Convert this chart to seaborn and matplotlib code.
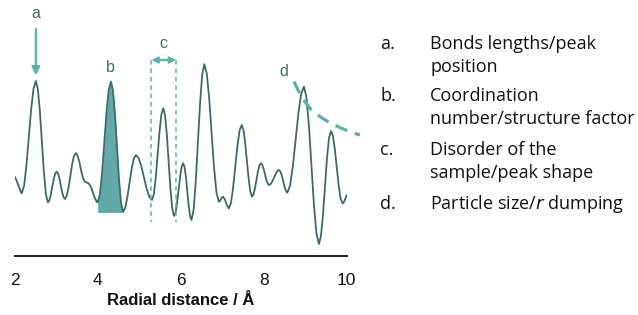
import numpy as np
import seaborn as sns
import matplotlib.pyplot as plt

sns.set_style('white')
plt.rcParams['font.family'] = ['Liberation Sans', 'DejaVu Sans']

# radial distribution curve (arbitrary units for G)
r_vals = [2.00, 2.04, 2.08, 2.12, 2.15, 2.17,
          2.227, 2.283, 2.34, 2.397, 2.453, 2.51,
          2.558, 2.607, 2.655, 2.703, 2.752, 2.80,
          2.835, 2.87, 2.905, 2.94, 2.975, 3.01,
          3.043, 3.077, 3.11, 3.143, 3.177, 3.21,
          3.253, 3.297, 3.34, 3.383, 3.427, 3.47,
          3.50, 3.53, 3.56, 3.59, 3.62, 3.65, 3.68, 3.71, 3.74, 3.77, 3.80, 3.83,
          3.86, 3.89, 3.92, 3.95, 3.98, 4.00,
          4.053, 4.107, 4.16, 4.213, 4.267, 4.32,
          4.368, 4.417, 4.465, 4.513, 4.562, 4.61,
          4.662, 4.713, 4.765, 4.817, 4.868, 4.92,
          4.985, 5.05, 5.115, 5.18, 5.245, 5.31,
          5.355, 5.40, 5.445, 5.49, 5.535, 5.58,
          5.623, 5.667, 5.71, 5.753, 5.797, 5.84,
          5.877, 5.913, 5.95, 5.987, 6.023, 6.06,
          6.093, 6.127, 6.16, 6.193, 6.227, 6.26,
          6.312, 6.363, 6.415, 6.467, 6.518, 6.57,
          6.628, 6.687, 6.745, 6.803, 6.862, 6.92,
          6.953, 6.987, 7.02,
          7.067, 7.113, 7.16,
          7.212, 7.263, 7.315, 7.367, 7.418, 7.47,
          7.512, 7.553, 7.595, 7.637, 7.678, 7.72,
          7.755, 7.79, 7.825, 7.86, 7.895, 7.93,
          7.963, 7.997, 8.03, 8.063, 8.097, 8.13,
          8.17, 8.21, 8.25, 8.29, 8.33, 8.37,
          8.403, 8.437, 8.47, 8.503, 8.537, 8.57,
          8.637, 8.703, 8.77, 8.837, 8.903, 8.97,
          9.03, 9.09, 9.15, 9.21, 9.27, 9.33,
          9.378, 9.427, 9.475, 9.523, 9.572, 9.62,
          9.667, 9.713, 9.76, 9.807, 9.853, 9.90,
          9.93, 9.965, 10.00]
g_vals = [1.17, 1.00, 0.78, 0.55, 0.39, 0.34,
          0.72, 1.74, 3.15, 4.55, 5.57, 5.95,
          5.54, 4.43, 2.92, 1.40, 0.29, -0.12,
          -0.02, 0.27, 0.65, 1.04, 1.32, 1.42,
          1.33, 1.08, 0.74, 0.39, 0.14, 0.05,
          0.20, 0.62, 1.20, 1.77, 2.19, 2.34,
          2.28, 2.12, 1.88, 1.58, 1.30, 1.08, 0.95, 0.89, 0.87, 0.84, 0.78, 0.67,
          0.52, 0.34, 0.16, 0.02, -0.10, -0.12,
          0.28, 1.39, 2.90, 4.41, 5.52, 5.92,
          5.48, 4.29, 2.67, 1.04, -0.15, -0.59,
          -0.40, 0.12, 0.83, 1.54, 2.06, 2.25,
          2.10, 1.69, 1.13, 0.56, 0.15, 0.00,
          0.31, 1.15, 2.30, 3.44, 4.28, 4.59,
          4.23, 3.24, 1.90, 0.55, -0.44, -0.80,
          -0.62, -0.14, 0.52, 1.18, 1.66, 1.84,
          1.65, 1.13, 0.42, -0.29, -0.81, -1.00,
          -0.48, 0.95, 2.90, 4.84, 6.27, 6.79,
          6.33, 5.07, 3.35, 1.63, 0.37, -0.09,
          -0.03, 0.11, 0.17,
          0.02, -0.27, -0.42,
          -0.14, 0.62, 1.67, 2.71, 3.47, 3.75,
          3.51, 2.86, 1.96, 1.07, 0.41, 0.17,
          0.28, 0.59, 1.01, 1.42, 1.73, 1.84,
          1.77, 1.57, 1.30, 1.02, 0.82, 0.75,
          0.80, 0.94, 1.13, 1.31, 1.45, 1.50,
          1.42, 1.22, 0.94, 0.65, 0.45, 0.37,
          0.73, 1.70, 3.02, 4.35, 5.31, 5.67,
          5.14, 3.70, 1.74, -0.23, -1.67, -2.20,
          -1.82, -0.79, 0.63, 2.04, 3.07, 3.45,
          3.21, 2.55, 1.64, 0.74, 0.07, -0.17,
          -0.12, 0.05, 0.25]

# shaded peak b
fill_range = (4.00, 4.61)
fill_base = -0.62

# damping envelope (d)
d_r = [8.73, 8.85, 8.96, 9.15, 9.37, 9.60, 9.86, 10.10, 10.32]
d_g = [5.92, 5.40, 5.00, 4.50, 4.15, 3.85, 3.60, 3.40, 3.25]

x_ticks = [2, 4, 6, 8, 10]
legend_letters = ['a.', 'b.', 'c.', 'd.']
legend_lines = [['Bonds lengths/peak', 'position'],
                ['Coordination', 'number/structure factor'],
                ['Disorder of the', 'sample/peak shape'],
                ['Particle size/$\\it{r}$ dumping']]

line_col = '#3d6b6a'
fill_col = '#62aaa5'
ann_col = '#5cb3ad'

fig = plt.figure(figsize=(6.38, 3.15), dpi=100)
ax = fig.add_axes([14.7 / 638, 1 - 256 / 315, 332 / 638, 256 / 315])

sns.lineplot(x=r_vals, y=g_vals, sort=False, estimator=None, color=line_col,
             linewidth=1.3, ax=ax)

r_arr = np.array(r_vals)
g_arr = np.array(g_vals)
m = (r_arr >= fill_range[0]) & (r_arr <= fill_range[1])
ax.fill_between(r_arr[m], g_arr[m], fill_base, color=fill_col, lw=0)

# a: arrow to first peak
ax.annotate('', xy=(2.51, 6.1), xytext=(2.51, 8.7),
            arrowprops=dict(arrowstyle='-|>', color=ann_col, lw=1.6, mutation_scale=12))
ax.text(2.51, 9.3, 'a', color=line_col, fontsize=11.5, ha='center', va='center')
ax.text(4.30, 6.6, 'b', color=line_col, fontsize=11.5, ha='center', va='center')

# c: peak width
c_left, c_right = 5.29, 5.89
ax.annotate('', xy=(c_left, 7.0), xytext=(c_right, 7.0),
            arrowprops=dict(arrowstyle='<|-|>', color=ann_col, lw=1.6, mutation_scale=9,
                            shrinkA=0, shrinkB=0))
for xc in (c_left, c_right):
    ax.plot([xc, xc], [7.0, -1.1], color=ann_col, lw=1.1, ls=(0, (3, 2.5)))
ax.text(5.59, 7.85, 'c', color=line_col, fontsize=11.5, ha='center', va='center')

# d: envelope
sns.lineplot(x=d_r, y=d_g, sort=False, estimator=None, color=ann_col, linewidth=2.3,
             ax=ax, clip_on=False)
ax.lines[-1].set_linestyle((0, (4, 2.5)))
ax.text(8.48, 6.45, 'd', color=line_col, fontsize=11.5, ha='center', va='center')

ax.set_xlim(2, 10)
ax.set_ylim(-2.8, 10)
ax.set_xticks(x_ticks)
ax.set_yticks([])
for s in ('top', 'left', 'right'):
    ax.spines[s].set_visible(False)
ax.spines['bottom'].set_color('#222222')
ax.spines['bottom'].set_linewidth(1.4)
ax.tick_params(axis='x', direction='in', length=5, width=1.4, color='#222222',
               pad=12, labelsize=12.5, labelcolor='#111111')
ax.set_xlabel('Radial distance / Å', fontsize=12, fontweight='bold', color='#111111',
              labelpad=4)
ax.patch.set_alpha(0)

# list of effects on the right
y_px = [44, 96, 150, 204]
for letter, lines, yp in zip(legend_letters, legend_lines, y_px):
    fig.text(380 / 638, 1 - yp / 315, letter, fontsize=13, family='Open Sans',
             va='center', color='#111111')
    for k, txt in enumerate(lines):
        fig.text(430 / 638, 1 - (yp + 23 * k) / 315, txt, fontsize=13,
                 family='Open Sans', va='center', color='#111111')

fig.savefig('out.png', dpi=100)
